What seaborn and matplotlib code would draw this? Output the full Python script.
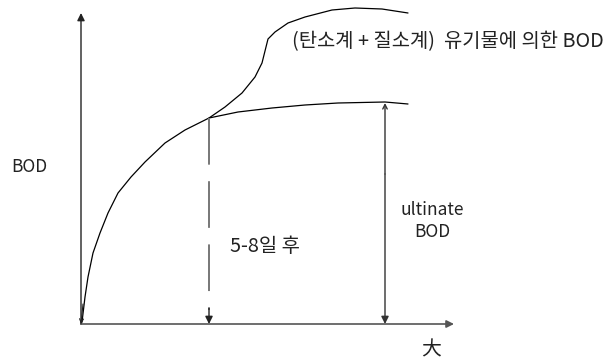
import seaborn as sns
import pandas as pd
import matplotlib.pyplot as plt

# diagram units: origin at the corner of the axes arrows
lower_x = [0, 1, 4, 7, 12, 19, 27, 37, 50, 64, 84, 104, 128, 157, 191, 224, 257, 304, 327]
lower_y = [0, 2, 27, 47, 71, 91, 111, 131, 147, 162, 181, 194, 206, 212, 216, 219, 221, 222, 220]

upper_x = [128, 144, 161, 174, 181, 186, 187, 194, 207, 224, 251, 274, 301, 327]
upper_y = [206, 217, 231, 247, 261, 281, 285, 292, 301, 307, 314, 316, 315, 311]

t_days = 128        # "5-8일 후" marker
ult_x = 304         # ultimate BOD arrow
ult_y = 222

sns.set_theme(style="white")
plt.rcParams["font.family"] = ["Noto Sans CJK KR", "DejaVu Sans"]

fig = plt.figure(figsize=(6.13, 3.6), dpi=100)
ax = fig.add_axes([0, 0, 1, 1])
ax.set_xlim(-81, 532)
ax.set_ylim(-36, 324)
ax.axis("off")

df_lower = pd.DataFrame({"x": lower_x, "y": lower_y})
df_upper = pd.DataFrame({"x": upper_x, "y": upper_y})
sns.lineplot(x="x", y="y", data=df_lower, sort=False, estimator=None, color="black", lw=0.9, ax=ax)
sns.lineplot(x="x", y="y", data=df_upper, sort=False, estimator=None, color="black", lw=0.9, ax=ax)

# axes arrows
ax.annotate("", xy=(0, 311), xytext=(0, 0),
            arrowprops=dict(arrowstyle="-|>", color="#222222", lw=1, mutation_scale=11, shrinkA=0, shrinkB=0))
ax.annotate("", xy=(373, 0), xytext=(0, 0),
            arrowprops=dict(arrowstyle="-|>", color="#555555", lw=1.2, mutation_scale=11, shrinkA=0, shrinkB=0))
# little open head at the curve start
ax.annotate("", xy=(0, 0), xytext=(2, 20),
            arrowprops=dict(arrowstyle="->", color="#222222", lw=0.8, mutation_scale=7, shrinkA=0, shrinkB=0))

# dashed marker line
ax.plot([t_days, t_days], [206, 14], color="#777777", lw=1.4, ls=(0, (24, 8.5)))
ax.annotate("", xy=(t_days, 0), xytext=(t_days, 16),
            arrowprops=dict(arrowstyle="-|>", color="#222222", lw=1, mutation_scale=11, shrinkA=0, shrinkB=0))

# ultimate BOD arrow
ax.annotate("", xy=(ult_x, 0), xytext=(ult_x, 150),
            arrowprops=dict(arrowstyle="-|>", color="#333333", lw=1, mutation_scale=11, shrinkA=0, shrinkB=0))
ax.annotate("", xy=(ult_x, ult_y - 1), xytext=(ult_x, 150),
            arrowprops=dict(arrowstyle="->", color="#333333", lw=1, mutation_scale=8, shrinkA=0, shrinkB=0))

fs_lat = 12.5
fs_kor = 14.3
ax.text(211, 282, "(탄소계 + 질소계)  유기물에 의한 BOD", fontsize=fs_kor, color="#222222", ha="left", va="center")
ax.text(-52, 157, "BOD", fontsize=fs_lat, color="#222222", ha="center", va="center")
ax.text(184, 78, "5-8일 후", fontsize=fs_kor, color="#222222", ha="center", va="center")
ax.text(351, 103, "ultinate\nBOD", fontsize=fs_lat, color="#222222", ha="center", va="center", linespacing=1.25)
ax.text(350, -26, "大", fontsize=fs_kor, color="#222222", ha="center", va="center")

plt.savefig("out.png", dpi=100)
plt.close()
